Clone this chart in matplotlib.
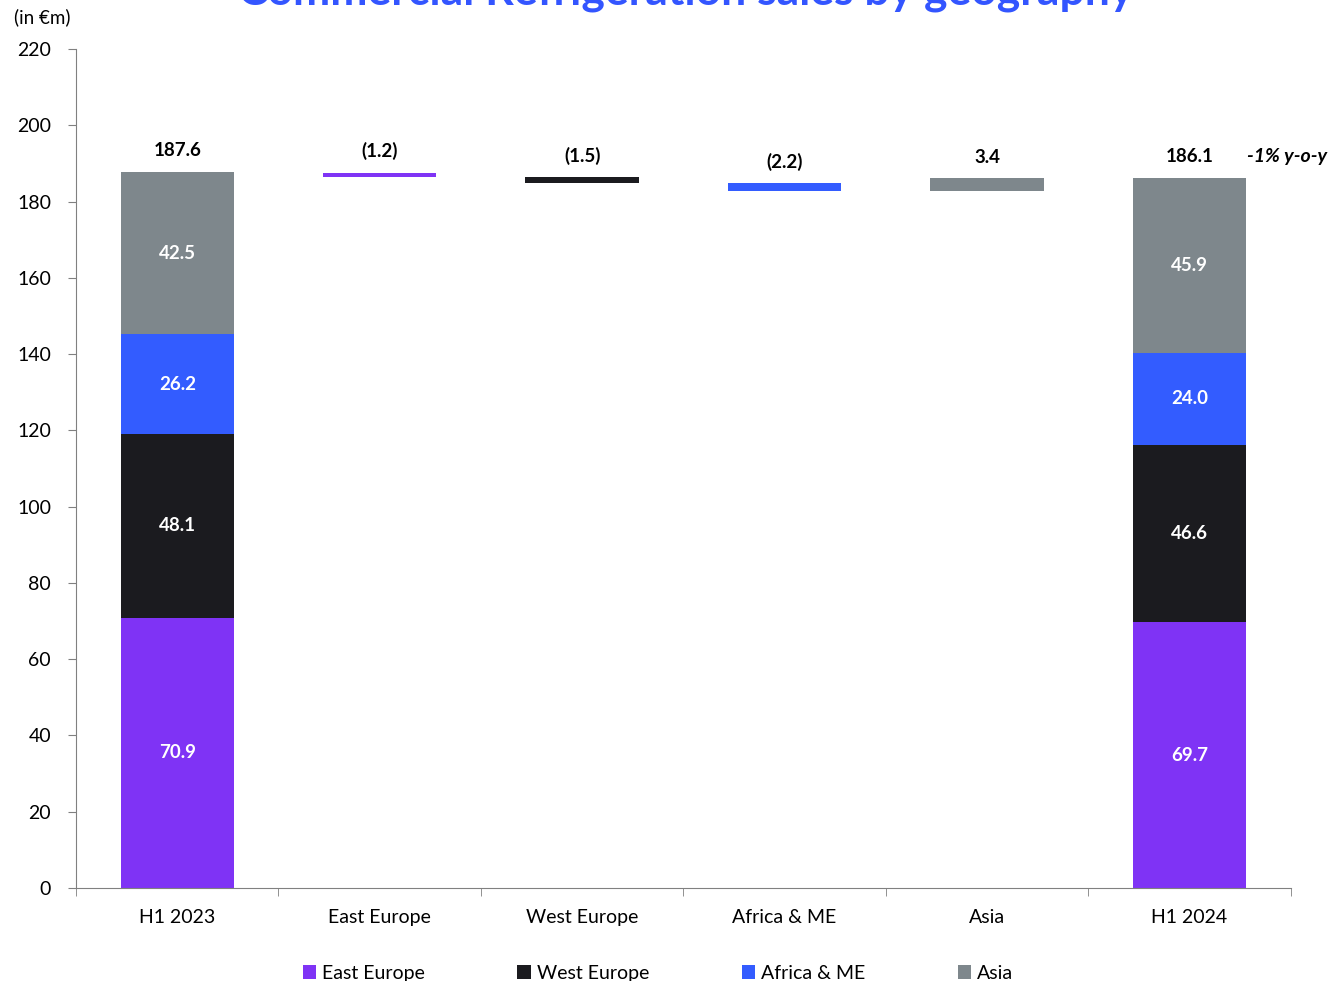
import numpy as np
import matplotlib
matplotlib.use("Agg")
from matplotlib import pyplot as plt
from matplotlib.patches import Patch

plt.rcParams['font.family'] = ['Lato', 'DejaVu Sans']

categories = ["H1 2023", "East Europe", "West Europe", "Africa & ME", "Asia", "H1 2024"]
regions = ["East Europe", "West Europe", "Africa & ME", "Asia"]
colors = ["#7F33F5", "#1B1B1F", "#335CFF", "#7E878C"]

h1_2023 = [70.9, 48.1, 26.2, 42.5]
h1_2024 = [69.7, 46.6, 24.0, 45.9]
deltas = [-1.2, -1.5, -2.2, 3.4]
total_2023 = 187.6
total_2024 = 186.1
delta_labels = ["(1.2)", "(1.5)", "(2.2)", "3.4"]

fig = plt.figure(figsize=(13.32, 9.81), dpi=100)
ax = fig.add_axes([0.0571, 0.0948, 0.9119, 0.8552])

x = np.arange(len(categories))
w = 0.56

# stacked start / end bars
for pos, vals, tot in [(0, h1_2023, total_2023), (5, h1_2024, total_2024)]:
    bottom = 0
    for v, c in zip(vals, colors):
        ax.bar(pos, v, w, bottom=bottom, color=c, linewidth=0)
        ax.text(pos, bottom + v / 2, f"{v:.1f}", ha='center', va='center',
                color='white', fontsize=13.5, fontweight='bold')
        bottom += v
    ax.text(pos, tot + 3.5, f"{tot:.1f}", ha='center', va='bottom',
            fontsize=13.5, fontweight='bold')

# floating delta bars
level = total_2023
for i, (d, c, lab) in enumerate(zip(deltas, colors, delta_labels)):
    lo = min(level, level + d)
    ax.bar(i + 1, abs(d), w, bottom=lo, color=c, linewidth=0)
    ax.text(i + 1, lo + abs(d) + 3.2, lab, ha='center', va='bottom',
            fontsize=13.5, fontweight='bold')
    level += d

ax.text(5.285, total_2024 + 3.5, "-1% y-o-y", ha='left', va='bottom',
        fontsize=14, fontweight='bold', style='italic')

ax.set_xlim(-0.5, 5.5)
ax.set_ylim(0, 220)
ax.set_yticks(np.arange(0, 221, 20))
ax.set_xticks(x)
ax.set_xticklabels(categories)
ax.set_xticks(np.arange(-0.5, 5.6, 1), minor=True)
ax.tick_params(axis='x', which='major', length=0, pad=15, labelsize=14)
ax.tick_params(axis='x', which='minor', length=6, color='#808080', direction='out')
ax.tick_params(axis='y', length=6, color='#808080', labelsize=14, pad=12)
for s in ['top', 'right']:
    ax.spines[s].set_visible(False)
for s in ['left', 'bottom']:
    ax.spines[s].set_color('#808080')

fig.text(0.0105, 0.982, "(in €m)", fontsize=13.5, ha='left', va='center')
fig.text(0.515, 0.995, "Commercial Refrigeration sales by geography", fontsize=32,
         fontweight='bold', color='#3355FF', ha='center', va='baseline')

handles = [Patch(facecolor=c, label=r) for c, r in zip(colors, regions)]
fig.legend(handles=handles, loc='center', bbox_to_anchor=(0.494, 0.008), ncol=4,
           frameon=False, fontsize=14, handlelength=0.7, handleheight=0.7,
           handletextpad=0.3, columnspacing=4.75)

fig.savefig("out.png", dpi=100)
